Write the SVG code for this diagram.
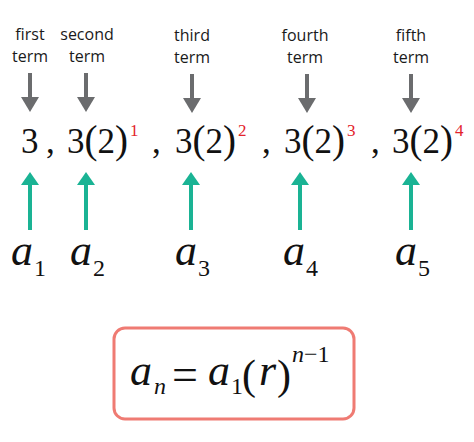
<svg xmlns="http://www.w3.org/2000/svg" width="474" height="442" viewBox="0 0 474 442">
<defs>
<style>
.lbl{font-family:"Open Sans","Liberation Sans",sans-serif;font-size:16px;fill:#1a1a1a;text-anchor:middle}
.m{font-family:"Liberation Serif","Times New Roman",serif;font-size:35px;fill:#111}
.p{font-size:39px}
.sup{font-family:"Liberation Serif","Times New Roman",serif;font-size:17px;fill:#e3232b}
.av{font-family:"Liberation Serif","Times New Roman",serif;font-size:44px;font-style:italic;fill:#111}
.sub{font-family:"Liberation Serif","Times New Roman",serif;font-size:24px;fill:#111}
.down{fill:#6b6c6e}
.up{fill:#1ab394}
</style>
<g id="darr"><rect x="-2" y="0" width="4" height="26" class="down"/><polygon points="-9,24 9,24 0,39" class="down"/></g>
<g id="uarr"><polygon points="-9,13 9,13 0,0" class="up"/><rect x="-2" y="11" width="4" height="47" class="up"/></g>
</defs>
<rect width="474" height="442" fill="#fff"/>

<g id="labels">
<text class="lbl" x="30" y="40">first</text><text class="lbl" x="30" y="62">term</text>
<text class="lbl" x="87" y="40">second</text><text class="lbl" x="87" y="62">term</text>
<text class="lbl" x="192" y="41">third</text><text class="lbl" x="192" y="63">term</text>
<text class="lbl" x="305" y="41">fourth</text><text class="lbl" x="305" y="63">term</text>
<text class="lbl" x="411" y="41">fifth</text><text class="lbl" x="411" y="63">term</text>
</g>

<g id="connectors">
<use href="#darr" x="30" y="73"/>
<use href="#darr" x="86" y="73"/>
<use href="#darr" x="192" y="74"/>
<use href="#darr" x="307" y="74"/>
<use href="#darr" x="411" y="74"/>
<use href="#uarr" x="30" y="172"/>
<use href="#uarr" x="86" y="172"/>
<use href="#uarr" x="191" y="172"/>
<use href="#uarr" x="300" y="172"/>
<use href="#uarr" x="411" y="172"/>
</g>

<g id="sequence">
<text class="m" x="21" y="153">3</text>
<text class="m" x="46" y="153">,</text>
<text class="m" x="67" y="153">3<tspan class="p">(</tspan>2<tspan class="p">)</tspan></text>
<text class="sup" x="130" y="136">1</text>
<text class="m" x="152" y="153">,</text>
<text class="m" x="175" y="153">3<tspan class="p">(</tspan>2<tspan class="p">)</tspan></text>
<text class="sup" x="238" y="136">2</text>
<text class="m" x="262" y="153">,</text>
<text class="m" x="284" y="153">3<tspan class="p">(</tspan>2<tspan class="p">)</tspan></text>
<text class="sup" x="347" y="136">3</text>
<text class="m" x="371" y="153">,</text>
<text class="m" x="392" y="153">3<tspan class="p">(</tspan>2<tspan class="p">)</tspan></text>
<text class="sup" x="455" y="136">4</text>
</g>

<g id="terms">
<text class="av" x="11" y="265">a</text><text class="sub" x="34" y="276">1</text>
<text class="av" x="70" y="265">a</text><text class="sub" x="93" y="276">2</text>
<text class="av" x="175" y="265">a</text><text class="sub" x="198" y="276">3</text>
<text class="av" x="283" y="265">a</text><text class="sub" x="306" y="276">4</text>
<text class="av" x="395" y="265">a</text><text class="sub" x="418" y="276">5</text>
</g>

<g id="formula">
<rect x="114" y="328" width="240" height="91" rx="11" fill="#fff" stroke="#ef7b73" stroke-width="3"/>
<text class="av" x="130" y="385">a</text>
<text font-family="Liberation Serif, serif" font-size="24" font-style="italic" fill="#111" x="154" y="394">n</text>
<text class="m" style="font-size:46px" x="172" y="390">=</text>
<text class="av" x="208" y="385">a</text>
<text class="sub" x="231" y="394">1</text>
<text class="m" style="font-size:42px" x="242" y="389">(</text>
<text class="av" x="259" y="385">r</text>
<text class="m" style="font-size:42px" x="277" y="389">)</text>
<text font-family="Liberation Serif, serif" font-size="24" fill="#111" x="292" y="362"><tspan font-style="italic">n</tspan>−1</text>
</g>
</svg>
